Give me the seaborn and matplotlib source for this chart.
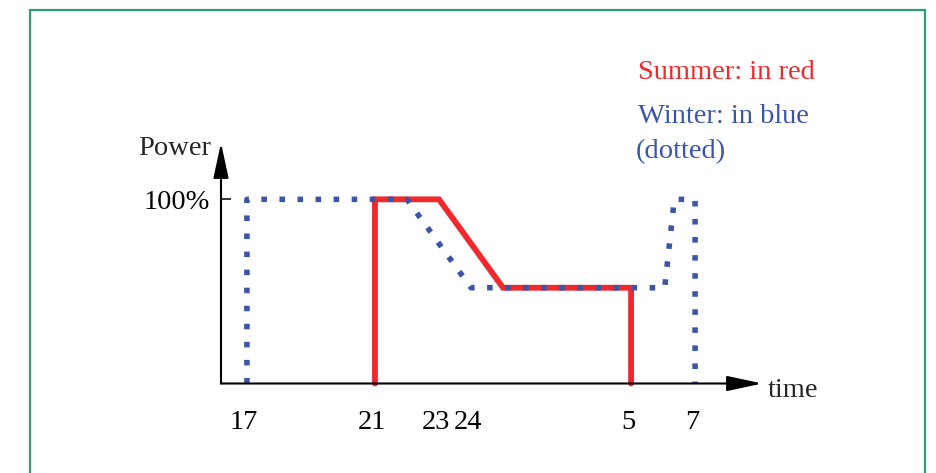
import matplotlib
matplotlib.use("Agg")
import matplotlib.pyplot as plt
import matplotlib.transforms as mtransforms
import seaborn as sns
from matplotlib.patches import Rectangle

# Schematic daily power profile (hours counted on past midnight: 25 = 1 h, 29 = 5 h)
summer_time = [21, 21, 23, 25, 29, 29]
summer_power = [0, 100, 100, 52, 52, 0]

winter_time = [17, 17, 22, 24, 30.05, 30.35, 31, 31]
winter_power = [0, 100, 100, 52, 52, 100, 100, 0]

tick_positions = [17, 21, 23, 24, 29, 31]
tick_labels = ["17", "21", "23", "24", "5", "7"]
marked_ticks = [23, 24]

summer_color = "#ee2a2e"
winter_color = "#3b55a8"
frame_color = "#2e9e6e"

sns.set_theme(style="white")
plt.rcParams["font.family"] = ["Liberation Serif", "DejaVu Serif"]
FS = 20.5

W, H = 936, 473
fig = plt.figure(figsize=(W / 100, H / 100), dpi=100)

# axes box: left 221 px, right 762 px, baseline 383.5 px, top 143 px
ax = fig.add_axes([221 / W, (H - 383.5) / H, (762 - 221) / W, (383.5 - 143) / H])
ax.set_xlim(16.19, 33.09)
ax.set_ylim(0, 130.6)
for s in ax.spines.values():
    s.set_visible(False)

sns.lineplot(x=summer_time, y=summer_power, ax=ax, sort=False, estimator=None,
             color=summer_color, linewidth=4.2, clip_on=False,
             solid_joinstyle="miter")
sns.lineplot(x=winter_time, y=winter_power, ax=ax, sort=False, estimator=None,
             color=winter_color, linewidth=4.0, linestyle=(0, (1, 2.25)),
             clip_on=False)

# axis arrows
arrow_kw = dict(arrowstyle="-|>,head_length=21.6,head_width=4.7",
                mutation_scale=1, color="black", lw=1.5,
                shrinkA=0, shrinkB=0)
ax.annotate("", xy=(1, 0), xytext=(0, 0), xycoords="axes fraction",
            textcoords="axes fraction", arrowprops=arrow_kw, annotation_clip=False)
ax.annotate("", xy=(0, 1), xytext=(0, 0), xycoords="axes fraction",
            textcoords="axes fraction", arrowprops=arrow_kw, annotation_clip=False)

# ticks
ax.set_xticks(tick_positions)
ax.set_xticklabels(tick_labels)
ax.set_xticks(marked_ticks, minor=True)
ax.tick_params(axis="x", which="major", length=0, pad=19, labelsize=FS,
               colors="black")
ax.tick_params(axis="x", which="minor", direction="in", length=11.5,
               width=1.1, color="black", bottom=True)
shift = mtransforms.ScaledTranslation(-3 / 100, 0, fig.dpi_scale_trans)
for lbl in ax.get_xticklabels():
    lbl.set_transform(lbl.get_transform() + shift)
ax.set_yticks([100])
ax.set_yticklabels(["100%"])
ax.tick_params(axis="y", which="major", direction="in", length=7.2, width=1.1,
               pad=8, labelsize=FS, colors="black", left=True)

# labels
fig.text(138 / W, 1 - 155 / H, "Power", fontsize=FS, ha="left", va="baseline")
fig.text(768 / W, 1 - 397 / H, "time", fontsize=FS, ha="left", va="baseline")
fig.text(638 / W, 1 - 79 / H, "Summer: in red", fontsize=FS, color=summer_color,
         ha="left", va="baseline")
fig.text(638 / W, 1 - 123 / H, "Winter: in blue", fontsize=FS, color=winter_color,
         ha="left", va="baseline")
fig.text(636 / W, 1 - 158 / H, "(dotted)", fontsize=FS, color=winter_color,
         ha="left", va="baseline")

# frame around the figure
fig.add_artist(Rectangle((30 / W, -0.1), (925 - 30) / W, 1.1 - 10 / H,
                         transform=fig.transFigure, fill=False,
                         edgecolor=frame_color, linewidth=1.6))

fig.savefig("out.png", dpi=100)
